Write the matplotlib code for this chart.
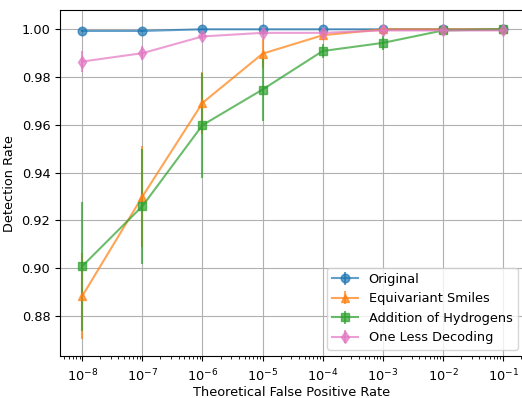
import matplotlib
matplotlib.use("Agg")
import matplotlib.pyplot as plt

FPR = [1e-8, 1e-7, 1e-6, 1e-5, 1e-4, 1e-3, 1e-2, 1e-1]

ORIGINAL = [0.9993, 0.9993, 1.0, 1.0, 1.0, 1.0, 1.0, 1.0]
ORIGINAL_ERR = [0.0005, 0.0005, 0.0003, 0.0003, 0.0003, 0.0003, 0.0003, 0.0003]

EQUIVARIANT = [0.8884, 0.930, 0.9692, 0.9898, 0.9975, 1.0, 1.0, 1.0]
EQUIVARIANT_ERR = [0.018, 0.021, 0.013, 0.006, 0.002, 0.0005, 0.0005, 0.0005]

HYDROGENS = [0.9009, 0.926, 0.9599, 0.9748, 0.9909, 0.9943, 0.9995, 1.0]
HYDROGENS_ERR = [0.027, 0.024, 0.022, 0.013, 0.003, 0.003, 0.001, 0.0005]

ONE_LESS = [0.9865, 0.990, 0.997, 0.9985, 0.9985, 0.9995, 0.9995, 0.9995]
ONE_LESS_ERR = [0.0045, 0.003, 0.001, 0.001, 0.0008, 0.0005, 0.0005, 0.0005]

SERIES = [
    ("Original", ORIGINAL, ORIGINAL_ERR, "o", "#1f77b4"),
    ("Equivariant Smiles", EQUIVARIANT, EQUIVARIANT_ERR, "^", "#ff7f0e"),
    ("Addition of Hydrogens", HYDROGENS, HYDROGENS_ERR, "s", "#2ca02c"),
    ("One Less Decoding", ONE_LESS, ONE_LESS_ERR, "d", "#e377c2"),
]


def main() -> None:
    plt.rcParams.update({"font.size": 9.3})

    fig = plt.figure(figsize=(5.22, 3.98), dpi=100)
    ax = fig.add_axes([0.115, 0.1055, 0.889, 0.869])

    for label, y, err, marker, color in SERIES:
        ax.errorbar(
            FPR,
            y,
            yerr=err,
            label=label,
            marker=marker,
            color=color,
            alpha=0.7,
            markersize=6.2,
        )

    ax.set_xscale("log")
    ax.set_xticks(FPR)
    ax.set_xlim(10 ** -8.37, 10 ** -0.65)
    ax.set_ylim(0.8633, 1.008)
    ax.tick_params(axis="x", pad=5)
    ax.set_xlabel("Theoretical False Positive Rate", labelpad=1.5)
    ax.set_ylabel("Detection Rate")
    ax.grid(True)
    ax.legend(loc="lower right")

    fig.savefig("out.png", dpi=100)
    plt.close(fig)


if __name__ == "__main__":
    main()
